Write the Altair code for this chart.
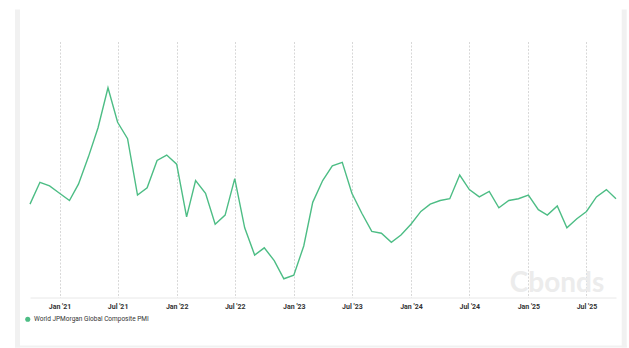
import altair as alt
import pandas as pd

# Monthly observations, Oct 2020 .. Oct 2025
months = pd.date_range("2020-10-01", "2025-10-01", freq="MS").strftime("%Y-%m-%dT00:00:00").tolist()
values = [
    52.1, 53.3, 53.1, 52.7, 52.3, 53.2, 54.7, 56.3, 58.5, 56.6, 55.7, 52.6,
    53.0, 54.5, 54.8, 54.3, 51.4, 53.4, 52.7, 51.0, 51.5, 53.5, 50.8, 49.3,
    49.7, 49.0, 48.0, 48.2, 49.8, 52.2, 53.4, 54.2, 54.4, 52.7, 51.6, 50.6,
    50.5, 50.0, 50.4, 51.0, 51.7, 52.1, 52.3, 52.4, 53.7, 52.9, 52.5, 52.8,
    51.9, 52.3, 52.4, 52.6, 51.8, 51.5, 52.0, 50.8, 51.3, 51.7, 52.5, 52.9,
    52.4,
]
series_name = "World JPMorgan Global Composite PMI"
tick_years_months = [(2021, 1), (2021, 7), (2022, 1), (2022, 7), (2023, 1), (2023, 7),
                     (2024, 1), (2024, 7), (2025, 1), (2025, 7)]
watermark = "Cbonds"

df = pd.DataFrame({"date": months, "value": values, "series": series_name})

W, H = 586, 256
LINE_COLOR = "#4dbd85"
FRAME = "#f1f1f1"

tick_vals = [alt.DateTime(year=y, month=m, date=1) for y, m in tick_years_months]

line = alt.Chart(df).mark_line(strokeWidth=1.4).encode(
    x=alt.X("date:T",
            scale=alt.Scale(domain=[months[0], months[-1]], nice=False),
            axis=alt.Axis(values=tick_vals, format="%b '%y", title=None,
                          grid=True, gridDash=[2, 1.5], gridColor="#d8d8d8", gridWidth=1,
                          ticks=False, domainColor="#e8e8e8", domainWidth=1,
                          labelFont="Roboto", labelFontSize=7, labelFontWeight="bold",
                          labelColor="#333333", labelPadding=5)),
    y=alt.Y("value:Q", scale=alt.Scale(domain=[46.97, 61.04], nice=False, zero=False),
            axis=None),
    color=alt.Color("series:N", scale=alt.Scale(range=[LINE_COLOR]),
                    legend=alt.Legend(title=None, orient="none", legendX=-5.5, legendY=274.5,
                                      symbolType="circle", symbolSize=26, symbolStrokeWidth=0,
                                      symbolFillColor=LINE_COLOR, labelFont="Roboto",
                                      labelFontSize=6.5, labelColor="#333333",
                                      labelOffset=3, padding=0)),
)

dummy = pd.DataFrame({"k": [0]})
wm = alt.Chart(dummy).mark_text(text=watermark, font="Lato", fontSize=28, fontWeight="bold",
                                color="#ececec", align="center", baseline="alphabetic").encode(
    x=alt.value(527), y=alt.value(250))

frame_left = alt.Chart(dummy).mark_rect(color=FRAME).encode(
    x=alt.value(-15), x2=alt.value(-10), y=alt.value(-32), y2=alt.value(306))
frame_right = alt.Chart(dummy).mark_rect(color=FRAME).encode(
    x=alt.value(591.7), x2=alt.value(596.7), y=alt.value(-32), y2=alt.value(306))
frame_bottom = alt.Chart(dummy).mark_rect(color=FRAME).encode(
    x=alt.value(-15), x2=alt.value(596.7), y=alt.value(304), y2=alt.value(306))

chart = alt.layer(frame_left, frame_right, frame_bottom, wm, line).properties(
    width=W, height=H,
    autosize=alt.AutoSizeParams(type="none"),
    padding={"left": 30, "top": 41.5, "right": 13, "bottom": 50.5},
    background="white",
).configure_view(stroke=None)

chart.save("out.html", embed_options={"renderer": "svg", "actions": False})
